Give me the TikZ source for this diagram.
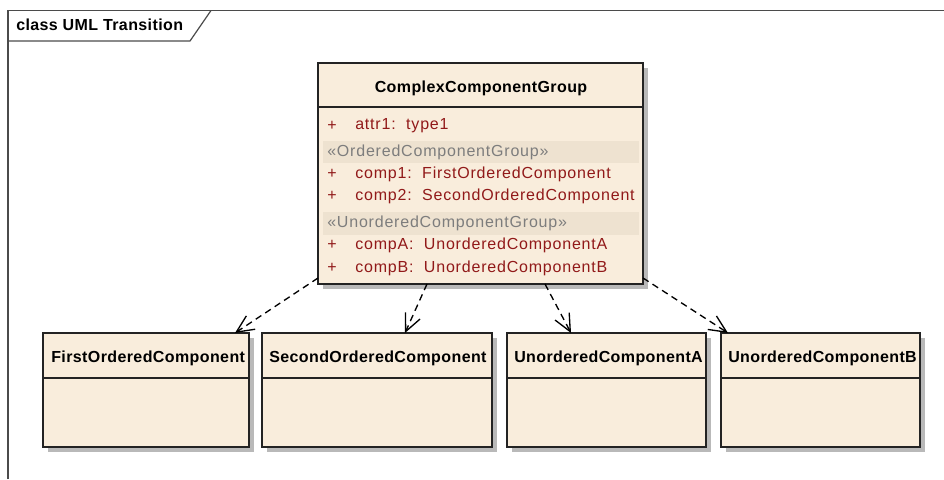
\documentclass[tikz,border=0pt]{standalone}
\usepackage{fontspec}
\setmainfont{Liberation Sans}
\newfontfamily\umlbold[LetterSpace=2.5]{Liberation Sans}
\newfontfamily\umlplain[LetterSpace=5]{Liberation Sans}
\usepackage{tikz}
\usetikzlibrary{arrows.meta,calc}

\definecolor{boxfill}{RGB}{249,237,220}
\definecolor{bandfill}{RGB}{238,226,208}
\definecolor{boxshadow}{RGB}{185,185,185}
\definecolor{attrred}{RGB}{145,25,25}
\definecolor{stereogray}{RGB}{125,125,125}
\definecolor{frameline}{RGB}{75,75,75}

\begin{document}
\begin{tikzpicture}[x=0.75pt,y=0.75pt,yscale=-1,xscale=1,
  classbox/.style={draw={rgb,255:red,35;green,35;blue,35},fill=boxfill,line width=1.4pt,inner sep=0pt,outer sep=0pt,anchor=north west},
  classname/.style={anchor=west,inner sep=0.75pt,font=\umlbold\fontsize{12}{14}\selectfont\bfseries},
  attr/.style={anchor=west,inner sep=0.75pt,text=attrred,font=\umlplain\fontsize{12}{14}\selectfont},
  stereo/.style={anchor=west,inner sep=0.75pt,text=stereogray,font=\umlplain\fontsize{12}{14}\selectfont},
  depends/.style={line width=1pt,dash pattern=on 5pt off 3.5pt,-{Straight Barb[length=13pt,width=12pt]}}]
\useasboundingbox (0,0) rectangle (944,479);

%Frame
\draw [color=frameline,line width=0.9pt]  (8,479) -- (8,10.5) -- (944,10.5) ;
\draw [color=frameline,line width=0.9pt]  (8,41) -- (190,41) -- (211,10.5) ;
% Text Node
\draw (15,25) node (title) [classname]  {class UML Transition};

%Shadows
\fill [boxshadow] (323,68) rectangle (648,289) ;
\fill [boxshadow] (48,338) rectangle (254,452) ;
\fill [boxshadow] (267,338) rectangle (497,452) ;
\fill [boxshadow] (512,338) rectangle (711,452) ;
\fill [boxshadow] (726,338) rectangle (925,452) ;

%Shape: Rectangle
\draw (318,63) node (main) [classbox,minimum width=243.75pt,minimum height=165.75pt] {};
\draw (43,333) node (first) [classbox,minimum width=154.5pt,minimum height=85.5pt] {};
\draw (262,333) node (second) [classbox,minimum width=172.5pt,minimum height=85.5pt] {};
\draw (507,333) node (unordA) [classbox,minimum width=149.25pt,minimum height=85.5pt] {};
\draw (721,333) node (unordB) [classbox,minimum width=149.25pt,minimum height=85.5pt] {};

%Straight Lines
\draw [line width=1.4pt,color={rgb,255:red,35;green,35;blue,35}]  (318,107) -- (643,107) ;
\draw [line width=1.4pt,color={rgb,255:red,35;green,35;blue,35}]  (43,378) -- (249,378) ;
\draw [line width=1.4pt,color={rgb,255:red,35;green,35;blue,35}]  (262,378) -- (492,378) ;
\draw [line width=1.4pt,color={rgb,255:red,35;green,35;blue,35}]  (507,378) -- (706,378) ;
\draw [line width=1.4pt,color={rgb,255:red,35;green,35;blue,35}]  (721,378) -- (920,378) ;

%Shape: Rectangle
\fill [bandfill] (323,141) rectangle (639,163) ;
\fill [bandfill] (323,212) rectangle (639,235) ;

% Text Node
\draw (481,88) node (mainname) [classname,anchor=center]  {ComplexComponentGroup};
\draw (50,358) node (firstname) [classname]  {FirstOrderedComponent};
\draw (268,358) node (secondname) [classname]  {SecondOrderedComponent};
\draw (513,358) node (unordAname) [classname]  {UnorderedComponentA};
\draw (727,358) node (unordBname) [classname]  {UnorderedComponentB};

% Text Node
\draw (326,126) node (p1) [attr]  {+};
\draw (354,126) node (attr1) [attr]  {attr1:\ \ type1};
\draw (326,152) node (ordered) [stereo]  {«OrderedComponentGroup»};
\draw (326,174) node (p2) [attr]  {+};
\draw (354,174) node (comp1) [attr]  {comp1:\ \ FirstOrderedComponent};
\draw (326,196) node (p3) [attr]  {+};
\draw (354,196) node (comp2) [attr]  {comp2:\ \ SecondOrderedComponent};
\draw (326,223) node (unordered) [stereo]  {«UnorderedComponentGroup»};
\draw (326,245) node (p4) [attr]  {+};
\draw (354,245) node (compA) [attr]  {compA:\ \ UnorderedComponentA};
\draw (326,268) node (p5) [attr]  {+};
\draw (354,268) node (compB) [attr]  {compB:\ \ UnorderedComponentB};

%Dependencies
\draw [depends]  ($(main.south west)+(0,-6)$) -- ($(first.north east)+(-14,0)$) ;
\draw [depends]  ($(main.south west)+(109,0)$) -- ($(second.north west)+(143,0)$) ;
\draw [depends]  ($(main.south west)+(227,0)$) -- ($(unordA.north west)+(64,0)$) ;
\draw [depends]  ($(main.south east)+(0,-6)$) -- ($(unordB.north west)+(7,0)$) ;

\end{tikzpicture}
\end{document}
